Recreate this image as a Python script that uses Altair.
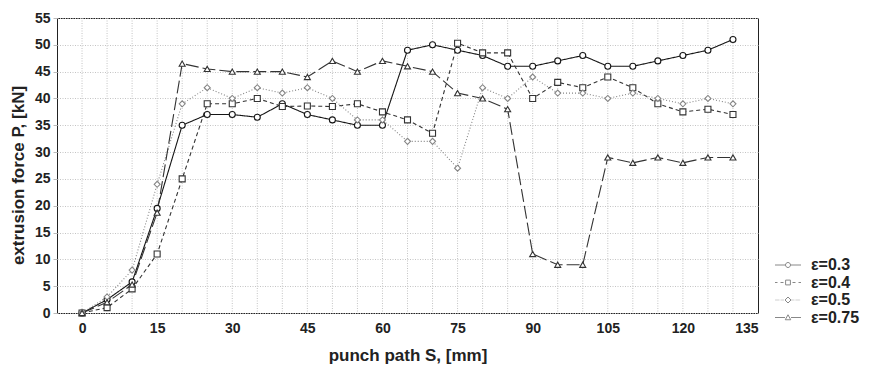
import altair as alt
import pandas as pd

# ---- data ----
path_mm = [0, 5, 10, 15, 20, 25, 30, 35, 40, 45, 50, 55, 60, 65, 70,
           75, 80, 85, 90, 95, 100, 105, 110, 115, 120, 125, 130]
force_e03 = [0, 2.5, 5.8, 19.5, 35, 37, 37, 36.5, 39, 37, 36, 35, 35, 49, 50,
             49, 48, 46, 46, 47, 48, 46, 46, 47, 48, 49, 51]
force_e04 = [0, 1, 4.5, 11, 25, 39, 39, 40, 38.5, 38.6, 38.5, 39, 37.5, 36, 33.5,
             50.3, 48.5, 48.5, 40, 43, 42, 44, 42, 39, 37.5, 38, 37]
force_e05 = [0, 3, 8, 24, 39, 42, 40, 42, 41, 42, 40, 36, 36, 32, 32,
             27, 42, 40, 44, 41, 41, 40, 41, 40, 39, 40, 39]
force_e075 = [0, 2, 5.3, 18.7, 46.5, 45.5, 45, 45, 45, 44, 47, 45, 47, 46, 45,
              41, 40, 38, 11, 9, 9, 29, 28, 29, 28, 29, 29]
series_names = ["ε=0.3", "ε=0.4", "ε=0.5", "ε=0.75"]
x_labels = list(range(0, 136, 15))
x_grid = list(range(0, 131, 5))
y_ticks = list(range(0, 56, 5))

rows = []
for name, vals in zip(series_names, [force_e03, force_e04, force_e05, force_e075]):
    for s, p in zip(path_mm, vals):
        rows.append({"S": s, "P": p, "series": name})
df = pd.DataFrame(rows)
grid_df = pd.DataFrame({"S": x_grid})

# ---- styles ----
colors = ["#151515", "#333333", "#858585", "#333333"]
dashes = [[1, 0], [4, 3], [1, 2], [13, 4]]
shapes = ["circle", "square", "diamond", "triangle-up"]


def segs(spans):
    return " ".join(f"M{a},0 L{b},0" for a, b in spans)


def dotted(a, b, step=0.24, length=0.08):
    out = []
    v = a
    while v + length <= b + 1e-9:
        out.append((round(v, 3), round(v + length, 3)))
        v += step
    return out


r = 0.5
circle_p = f"M{r},0 A{r},{r} 0 1,1 {-r},0 A{r},{r} 0 1,1 {r},0 Z"
square_p = "M-0.48,-0.48 L0.48,-0.48 L0.48,0.48 L-0.48,0.48 Z"
diamond_p = "M0,-0.6 L0.6,0 L0,0.6 L-0.6,0 Z"
triangle_p = "M0,-0.55 L0.55,0.45 L-0.55,0.45 Z"
legend_paths = [
    segs([(-2.6, -r), (r, 2.6)]) + " " + circle_p,
    segs([(-2.6, -2.1), (-1.5, -0.9), (0.9, 1.5), (2.1, 2.6)]) + " " + square_p,
    segs(dotted(-2.6, -0.65) + dotted(0.65, 2.6)) + " " + diamond_p,
    segs([(-2.6, -0.6), (0.6, 2.6)]) + " " + triangle_p,
]

font = "Liberation Sans Narrow, Liberation Sans, Arial"
grid_color = "#c4c4c4"
grid_dash = [1, 1.5]

x_scale = alt.Scale(domain=[-5, 135], nice=False, zero=False)
x_enc = alt.X("S:Q", scale=x_scale,
              axis=alt.Axis(values=x_labels, tickCount=len(x_labels), title="punch path S, [mm]",
                            grid=False, labelOverlap=False,
                            ticks=False, domain=False, labelPadding=8,
                            titlePadding=12))
y_enc = alt.Y("P:Q", scale=alt.Scale(domain=[0, 55], nice=False),
              axis=alt.Axis(values=y_ticks, tickCount=len(y_ticks), title="extrusion force P, [kN]",
                            grid=True, gridColor=grid_color, gridDash=grid_dash,
                            labelOverlap=False, titleY=157,
                            tickSize=4, tickColor="#bbbbbb", domain=False,
                            labelPadding=3, titlePadding=7))

color_scale = alt.Scale(domain=series_names, range=colors)

vgrid = alt.Chart(grid_df).mark_rule(color=grid_color, strokeDash=grid_dash, strokeWidth=1).encode(
    x=alt.X("S:Q", scale=x_scale),
)

lines = alt.Chart(df).mark_line(strokeWidth=1.1).encode(
    x=x_enc, y=y_enc,
    stroke=alt.Stroke("series:N", scale=color_scale, legend=None),
    strokeDash=alt.StrokeDash("series:N", scale=alt.Scale(domain=series_names, range=dashes), legend=None),
    detail="series:N",
)

points = alt.Chart(df).mark_point(size=36, fill="white", fillOpacity=1, opacity=1, strokeWidth=1.1).encode(
    x="S:Q", y="P:Q",
    stroke=alt.Stroke("series:N", scale=color_scale, legend=None),
    shape=alt.Shape("series:N", scale=alt.Scale(domain=series_names, range=shapes), legend=None),
)

legend_layer = alt.Chart(df).transform_filter("datum.S < -1000").mark_point(
    size=100, filled=False, strokeWidth=1, opacity=1
).encode(
    x="S:Q", y="P:Q",
    stroke=alt.Stroke("series:N", scale=color_scale, legend=None),
    shape=alt.Shape("series:N", scale=alt.Scale(domain=series_names, range=legend_paths),
                    legend=alt.Legend(title=None, orient="none", legendX=723, legendY=239,
                                      labelFontSize=16, labelFont=font, labelFontWeight="bold",
                                      labelColor="#222", labelOffset=15, symbolSize=100,
                                      symbolStrokeWidth=1, symbolOpacity=1, rowPadding=1.5,
                                      symbolFillColor="transparent")),
)

chart = alt.layer(vgrid, lines, points, legend_layer).resolve_scale(shape="independent").properties(
    width=701, height=295,
    background="white",
    autosize=alt.AutoSizeParams(type="none"),
    padding={"left": 57, "top": 18, "right": 111, "bottom": 52},
).configure_view(
    stroke="#222", strokeWidth=1
).configure_axis(
    labelFont=font, labelFontSize=14, labelFontWeight="bold", labelColor="#222",
    titleFont=font, titleFontSize=17, titleFontWeight="bold", titleColor="#222",
)

chart.save("out.html", embed_options={"renderer": "svg", "actions": False})
